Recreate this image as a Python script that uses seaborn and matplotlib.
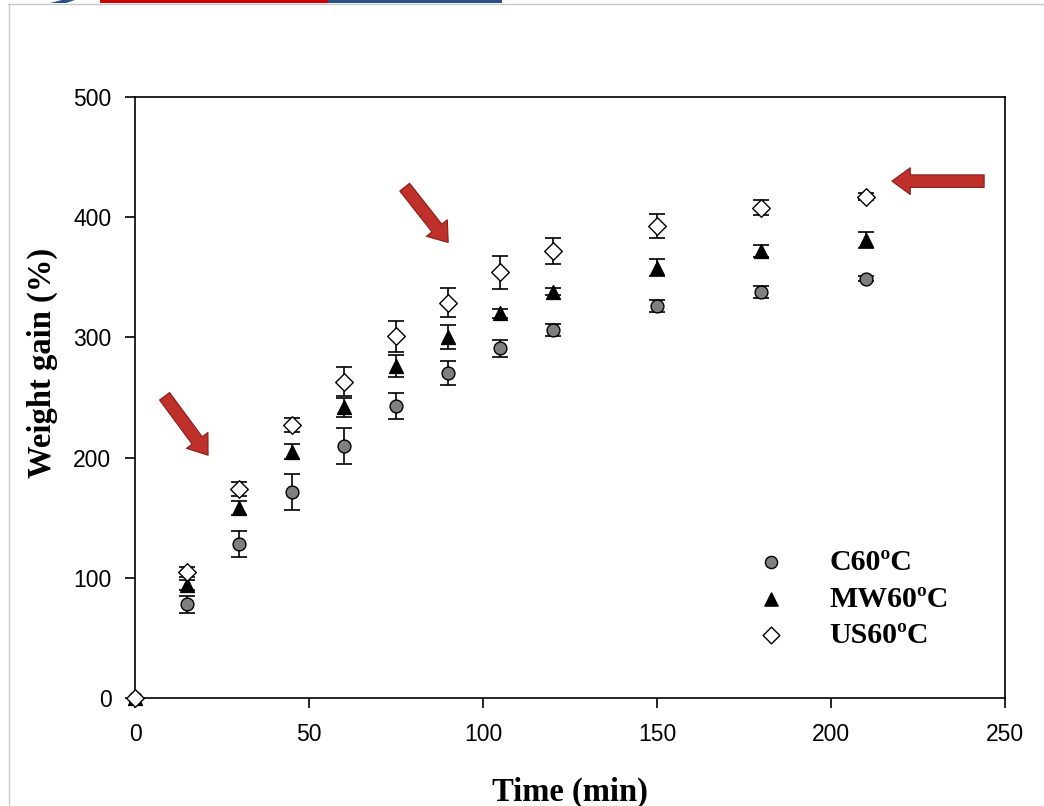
import matplotlib
matplotlib.use("Agg")
import matplotlib.pyplot as plt
import matplotlib.patches as mpatches
import seaborn as sns
import pandas as pd

time = [0, 15, 30, 45, 60, 75, 90, 105, 120, 150, 180, 210]
c60 = [0, 78, 128, 171, 210, 243, 270, 291, 306, 326, 338, 349]
c60_err = [0, 7, 11, 15, 15, 11, 10, 7, 5, 5, 5, 2]
mw60 = [0, 94, 158, 205, 242, 276, 300, 320, 338, 358, 372, 381]
mw60_err = [0, 4, 6, 6, 8, 9, 10, 4, 3, 7, 5, 7]
us60 = [0, 105, 174, 227, 263, 301, 329, 354, 372, 393, 408, 417]
us60_err = [0, 4, 6, 6, 12, 13, 12, 14, 11, 10, 6, 3]
series_names = ["C60\u00baC", "MW60\u00baC", "US60\u00baC"]

sns.set_theme(style="ticks")
plt.rcParams["font.family"] = ["Liberation Sans", "DejaVu Sans"]
plt.rcParams["text.color"] = "black"
plt.rcParams["axes.labelcolor"] = "black"

fig = plt.figure(figsize=(10.44, 8.06), dpi=100)
ax = fig.add_axes([135/1044, 1-698/806, (1005-135)/1044, (698-97)/806])

rows = []
for name, vals in zip(series_names, [c60, mw60, us60]):
    for t, v in zip(time, vals):
        rows.append({"Time": t, "Gain": v, "Series": name})
df = pd.DataFrame(rows)

styles = {
    series_names[0]: dict(marker="o", face="#7f7f7f", size=85),
    series_names[1]: dict(marker="^", face="black", size=100),
    series_names[2]: dict(marker="D", face="white", size=80),
}
errs = {series_names[0]: c60_err, series_names[1]: mw60_err, series_names[2]: us60_err}

for name in series_names:
    sub = df[df["Series"] == name]
    ax.errorbar(sub["Time"], sub["Gain"], yerr=errs[name], fmt="none",
                ecolor="black", elinewidth=1.2, capsize=6, capthick=1.2, zorder=2)

for name in series_names:
    sub = df[df["Series"] == name]
    st = styles[name]
    sns.scatterplot(data=sub, x="Time", y="Gain", ax=ax, marker=st["marker"],
                    color=st["face"], edgecolor="black", linewidth=1.0,
                    s=st["size"], label=name, zorder=3, clip_on=False)

ax.set_xlim(0, 250)
ax.set_ylim(0, 500)
ax.set_xticks([0, 50, 100, 150, 200, 250])
ax.set_yticks([0, 100, 200, 300, 400, 500])
ax.tick_params(axis="both", direction="out", length=7, width=1.2, labelsize=16.5,
               colors="black", labelcolor="black")
ax.tick_params(axis="x", pad=11)
ax.tick_params(axis="y", pad=10)
for sp in ax.spines.values():
    sp.set_visible(True)
    sp.set_color("black")
    sp.set_linewidth(1.2)
ax.set_xlabel("Time (min)", fontsize=23.5, fontweight="bold", family=["Liberation Serif"],
              labelpad=22, color="black")
ax.set_ylabel("Weight gain (%)", fontsize=23.5, fontweight="bold", family=["Liberation Serif"],
              color="black")
ax.yaxis.set_label_coords(-0.088, 0.558)

leg = ax.legend(loc="upper left", bbox_to_anchor=(0.697, 0.248), frameon=False,
                prop={"family": "Liberation Serif", "weight": "bold", "size": 21.5},
                handletextpad=0.95, labelspacing=0.32, markerscale=0.95,
                borderaxespad=0, borderpad=0, labelcolor="black")

# red arrows
arrow_kw = dict(arrowstyle="simple,head_width=1.6,head_length=1.1,tail_width=0.75",
                fc="#c0302a", ec="#8a1c18", lw=0.8, shrinkA=0, shrinkB=0)
ax.annotate("", xy=(21, 202), xytext=(8.5, 251), arrowprops=arrow_kw, zorder=4)
ax.annotate("", xy=(90, 379), xytext=(77.5, 425), arrowprops=arrow_kw, zorder=4)
ax.annotate("", xy=(217.5, 430), xytext=(244, 430), arrowprops=arrow_kw, zorder=4)

# page decorations
fig.add_artist(mpatches.Rectangle((100/1044, 1-3/806), 228/1044, 3/806, transform=fig.transFigure, color="#cc0000", lw=0))
fig.add_artist(mpatches.Rectangle((328/1044, 1-3/806), 174/1044, 3/806, transform=fig.transFigure, color="#2b5088", lw=0))
fig.add_artist(plt.Line2D([8/1044, 1], [1-3.5/806, 1-3.5/806], transform=fig.transFigure, color="#c8c8c8", lw=1))
fig.add_artist(plt.Line2D([8.5/1044, 8.5/1044], [0, 1-3.5/806], transform=fig.transFigure, color="#c8c8c8", lw=1))
fig.add_artist(mpatches.Polygon([(50/1044, 1-3/806), (62/1044, 1), (75/1044, 1), (66/1044, 1-3/806)],
                                transform=fig.transFigure, color="#2b5088", lw=0))

fig.savefig("out.png", dpi=100)
